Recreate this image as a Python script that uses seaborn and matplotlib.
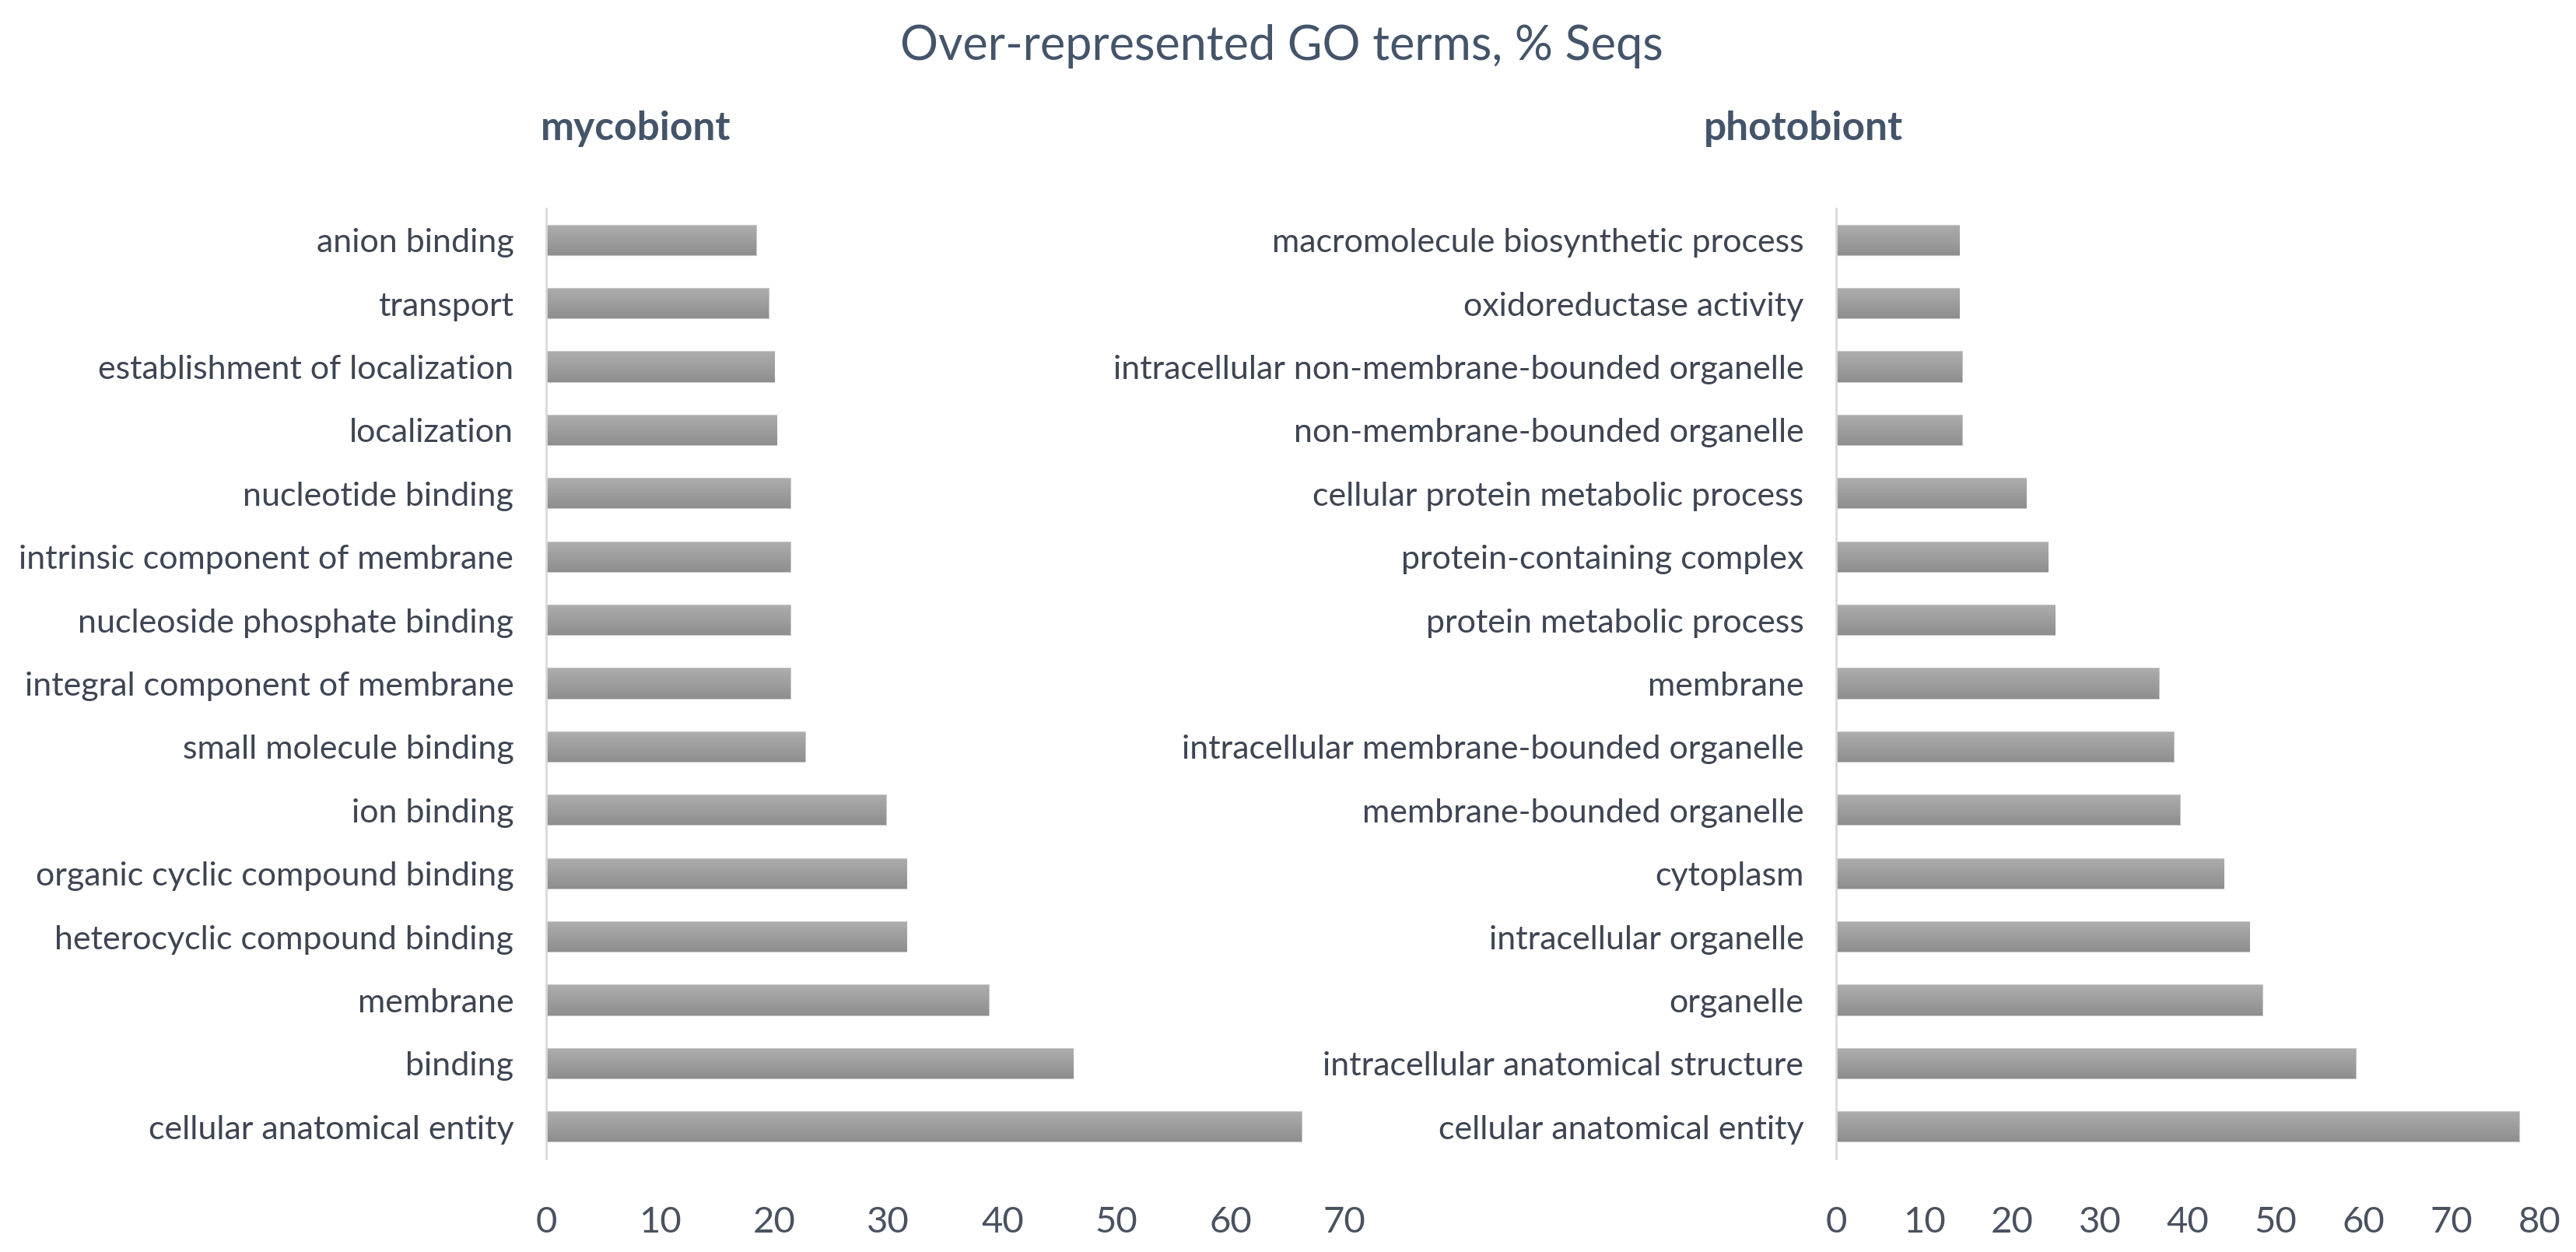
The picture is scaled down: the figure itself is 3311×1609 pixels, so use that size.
import matplotlib.pyplot as plt
from matplotlib.colors import LinearSegmentedColormap
import numpy as np
import seaborn as sns
import pandas as pd

sns.set_style('white')
plt.rcParams['font.family'] = ['Lato', 'DejaVu Sans']

myco_terms = ['anion binding', 'transport', 'establishment of localization', 'localization',
              'nucleotide binding', 'intrinsic component of membrane', 'nucleoside phosphate binding',
              'integral component of membrane', 'small molecule binding', 'ion binding',
              'organic cyclic compound binding', 'heterocyclic compound binding', 'membrane',
              'binding', 'cellular anatomical entity']
myco_vals = [18.4, 19.5, 20.0, 20.2, 21.4, 21.4, 21.4, 21.4, 22.7, 29.8, 31.6, 31.6, 38.8, 46.2, 66.2]

photo_terms = ['macromolecule biosynthetic process', 'oxidoreductase activity',
               'intracellular non-membrane-bounded organelle', 'non-membrane-bounded organelle',
               'cellular protein metabolic process', 'protein-containing complex',
               'protein metabolic process', 'membrane', 'intracellular membrane-bounded organelle',
               'membrane-bounded organelle', 'cytoplasm', 'intracellular organelle', 'organelle',
               'intracellular anatomical structure', 'cellular anatomical entity']
photo_vals = [14.0, 14.0, 14.3, 14.3, 21.6, 24.1, 24.9, 36.7, 38.4, 39.1, 44.1, 47.0, 48.5, 59.1, 77.7]

title = 'Over-represented GO terms, % Seqs'
panel_titles = ['mycobiont', 'photobiont']

text_col = '#44546A'
label_col = '#3E4553'
grad = LinearSegmentedColormap.from_list('g', ['#ADADAD', '#8E8E8E'])

fig = plt.figure(figsize=(33.11, 16.09), dpi=100)
ax1 = fig.add_axes([0.212, 0.0746, 0.310, 0.7588])
ax2 = fig.add_axes([0.7128, 0.0746, 0.2730, 0.7588])


def draw(ax, terms, vals, xmax, ticks):
    df = pd.DataFrame({'term': terms, 'val': vals})
    sns.barplot(data=df, x='val', y='term', ax=ax, color='#9E9E9E', width=0.47,
                orient='h', edgecolor='#C8C8C8', linewidth=1.5)
    ax.set_xlim(0, xmax)
    ax.set_ylim(len(terms) - 0.5, -0.5)
    g = np.linspace(0, 1, 64).reshape(-1, 1)
    for p in ax.patches:
        x0, y0 = p.get_x(), p.get_y()
        w, h = p.get_width(), p.get_height()
        im = ax.imshow(g, cmap=grad, aspect='auto', extent=[x0, x0 + w, y0 + h, y0],
                       zorder=p.get_zorder() + 0.1)
        im.set_clip_path(p)
    ax.set_xlim(0, xmax)
    ax.set_ylim(len(terms) - 0.5, -0.5)
    ax.set_xlabel('')
    ax.set_ylabel('')
    ax.set_xticks(ticks)
    ax.tick_params(axis='x', length=0, labelsize=34, labelcolor='#4A5260', pad=44)
    ax.tick_params(axis='y', length=0, labelsize=31, labelcolor=label_col, pad=30)
    for s in ['top', 'right', 'bottom']:
        ax.spines[s].set_visible(False)
    ax.spines['left'].set_color('#D9D9D9')
    ax.spines['left'].set_linewidth(2)


draw(ax1, myco_terms, myco_vals, 70, list(range(0, 80, 10)))
draw(ax2, photo_terms, photo_vals, 80, list(range(0, 90, 10)))

fig.text(0.4975, 0.963, title, ha='center', va='center', fontsize=44, color=text_col)
fig.text(0.2098, 0.897, panel_titles[0], ha='left', va='center', fontsize=37,
         fontweight='bold', color=text_col)
fig.text(0.6614, 0.897, panel_titles[1], ha='left', va='center', fontsize=37,
         fontweight='bold', color=text_col)

plt.savefig('out.png', dpi=100)
